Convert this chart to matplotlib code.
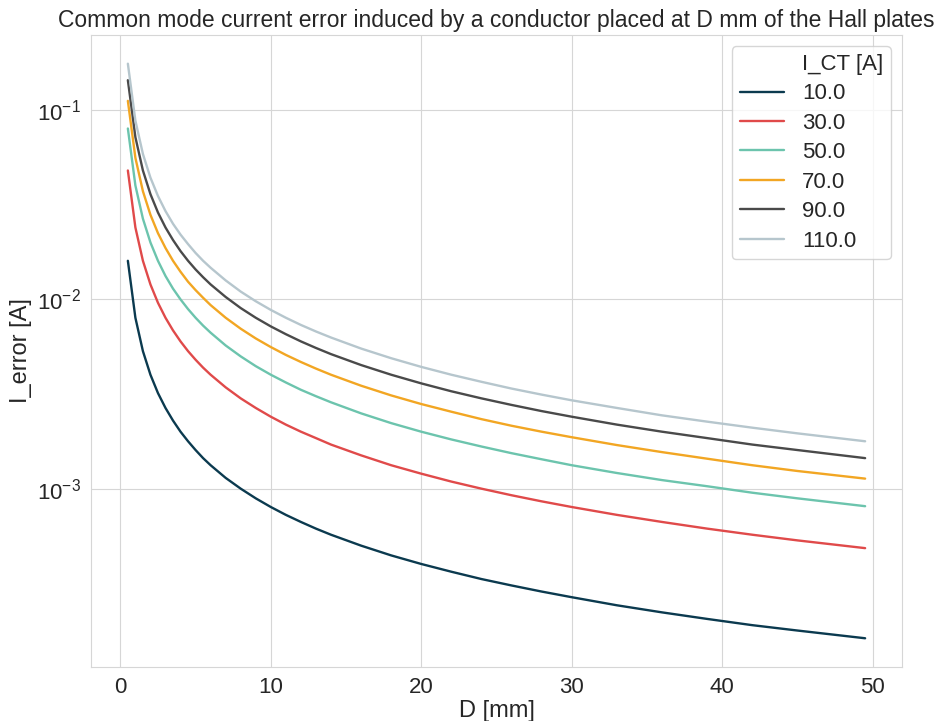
import matplotlib.pyplot as plt
from matplotlib.lines import Line2D
import seaborn as sns

# distance to the conductor [mm]
d_mm = [0.5, 1, 1.5, 2, 2.5, 3, 3.5, 4, 4.5, 5, 5.5, 6, 7, 8, 9, 10, 11, 12,
        13, 14, 16, 18, 20, 22, 24, 26, 28, 30, 33, 36, 39, 42, 45, 49.5]

# common mode current [A]
i_ct = [10.0, 30.0, 50.0, 70.0, 90.0, 110.0]

# error current [A], one list per I_CT value
err_10 = [0.016, 0.008, 0.00533, 0.004, 0.0032, 0.00267, 0.00229, 0.002,
          0.00178, 0.0016, 0.00145, 0.00133, 0.00114, 0.001, 0.000889,
          0.0008, 0.000727, 0.000667, 0.000615, 0.000571, 0.0005, 0.000444,
          0.0004, 0.000364, 0.000333, 0.000308, 0.000286, 0.000267,
          0.000242, 0.000222, 0.000205, 0.00019, 0.000178, 0.000162]
err_30 = [0.048, 0.024, 0.016, 0.012, 0.0096, 0.008, 0.00686, 0.006,
          0.00533, 0.0048, 0.00436, 0.004, 0.00343, 0.003, 0.00267, 0.0024,
          0.00218, 0.002, 0.00185, 0.00171, 0.0015, 0.00133, 0.0012,
          0.00109, 0.001, 0.000923, 0.000857, 0.0008, 0.000727, 0.000667,
          0.000615, 0.000571, 0.000533, 0.000485]
err_50 = [0.08, 0.04, 0.0267, 0.02, 0.016, 0.0133, 0.0114, 0.01, 0.00889,
          0.008, 0.00727, 0.00667, 0.00571, 0.005, 0.00444, 0.004, 0.00364,
          0.00333, 0.00308, 0.00286, 0.0025, 0.00222, 0.002, 0.00182,
          0.00167, 0.00154, 0.00143, 0.00133, 0.00121, 0.00111, 0.00103,
          0.000952, 0.000889, 0.000808]
err_70 = [0.112, 0.056, 0.0373, 0.028, 0.0224, 0.0187, 0.016, 0.014,
          0.0124, 0.0112, 0.0102, 0.00933, 0.008, 0.007, 0.00622, 0.0056,
          0.00509, 0.00467, 0.00431, 0.004, 0.0035, 0.00311, 0.0028,
          0.00255, 0.00233, 0.00215, 0.002, 0.00187, 0.0017, 0.00156,
          0.00144, 0.00133, 0.00124, 0.00113]
err_90 = [0.144, 0.072, 0.048, 0.036, 0.0288, 0.024, 0.0206, 0.018, 0.016,
          0.0144, 0.0131, 0.012, 0.0103, 0.009, 0.008, 0.0072, 0.00655,
          0.006, 0.00554, 0.00514, 0.0045, 0.004, 0.0036, 0.00327, 0.003,
          0.00277, 0.00257, 0.0024, 0.00218, 0.002, 0.00185, 0.00171,
          0.0016, 0.00145]
err_110 = [0.176, 0.088, 0.0587, 0.044, 0.0352, 0.0293, 0.0251, 0.022,
           0.0196, 0.0176, 0.016, 0.0147, 0.0126, 0.011, 0.00978, 0.0088,
           0.008, 0.00733, 0.00677, 0.00629, 0.0055, 0.00489, 0.0044, 0.004,
           0.00367, 0.00338, 0.00314, 0.00293, 0.00267, 0.00244, 0.00226,
           0.0021, 0.00196, 0.00178]

series = [err_10, err_30, err_50, err_70, err_90, err_110]
colors = ["#0b3a4f", "#e04a4a", "#6cc4ad", "#f2a623", "#4a4a4a", "#b6c6cd"]

sns.set_style("whitegrid")
plt.rcParams["font.family"] = ["Liberation Sans", "DejaVu Sans"]

fig = plt.figure(figsize=(9.44, 7.21), dpi=100)
ax = fig.add_axes([0.0964, 0.0749, 0.8591, 0.8766])

handles = [Line2D([], [], linestyle="none")]
labels = ["I_CT [A]"]
for cur, vals, col in zip(i_ct, series, colors):
    line, = ax.plot(d_mm, vals, color=col, linewidth=1.7)
    handles.append(line)
    labels.append(f"{cur:.1f}")

ax.set_yscale("log")
ax.set_xticks([0, 10, 20, 30, 40, 50])
ax.tick_params(labelsize=16)
ax.set_xlabel("D [mm]", fontsize=17, labelpad=2)
ax.set_ylabel("I_error [A]", fontsize=17)
ax.set_title("Common mode current error induced by a conductor placed at D mm of the Hall plates",
             fontsize=16.5, pad=6)
ax.grid(True, which="major", color="#d6d6d6")
ax.grid(False, which="minor")
for s in ax.spines.values():
    s.set_color("#d6d6d6")

ax.legend(handles, labels, loc="upper right", fontsize=16, frameon=True,
          labelspacing=0.38, borderpad=0.35)

fig.savefig("out.png", dpi=100)
